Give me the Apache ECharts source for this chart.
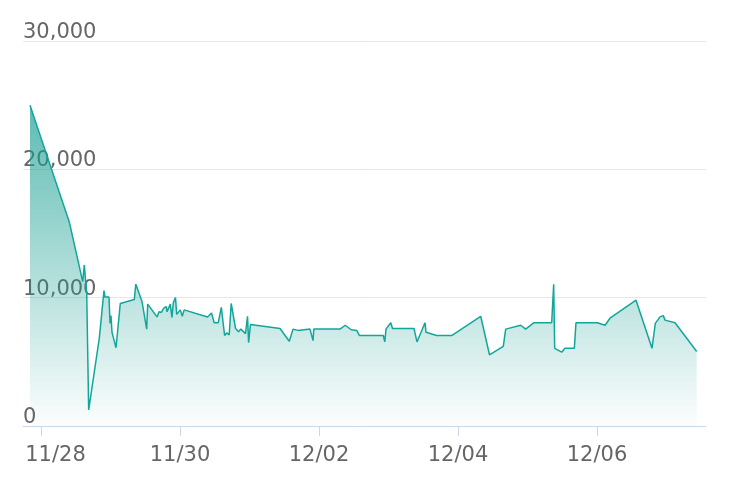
<!DOCTYPE html>
<html>
<head>
<meta charset="utf-8">
<script src="https://cdn.jsdelivr.net/npm/echarts@6/dist/echarts.min.js"></script>
<style>html,body{margin:0;padding:0;background:#fff;}#main{width:730px;height:498px;}</style>
</head>
<body>
<div id="main"></div>
<script>
var times = [
'2023-11-27 20:12','2023-11-28 09:46','2023-11-28 14:24','2023-11-28 14:57','2023-11-28 15:18','2023-11-28 15:47',
'2023-11-28 16:28','2023-11-28 20:08','2023-11-28 21:45','2023-11-28 22:06','2023-11-28 23:29','2023-11-28 23:50',
'2023-11-29 00:10','2023-11-29 00:31','2023-11-29 01:54','2023-11-29 03:23','2023-11-29 08:13','2023-11-29 08:44',
'2023-11-29 10:53','2023-11-29 12:30','2023-11-29 12:50','2023-11-29 16:04','2023-11-29 16:45','2023-11-29 17:32',
'2023-11-29 18:28','2023-11-29 19:16','2023-11-29 19:31','2023-11-29 20:39','2023-11-29 21:14','2023-11-29 21:41',
'2023-11-29 22:26','2023-11-29 22:52','2023-11-30 00:06','2023-11-30 00:47','2023-11-30 01:27','2023-11-30 09:30',
'2023-11-30 10:52','2023-11-30 11:49','2023-11-30 13:13','2023-11-30 14:16','2023-11-30 15:24','2023-11-30 16:07',
'2023-11-30 16:59','2023-11-30 17:41','2023-11-30 19:10','2023-11-30 20:12','2023-11-30 21:00','2023-11-30 22:37',
'2023-11-30 23:19','2023-11-30 23:41','2023-12-01 00:20','2023-12-01 10:32','2023-12-01 13:44','2023-12-01 15:01',
'2023-12-01 16:45','2023-12-01 20:53','2023-12-01 21:56','2023-12-01 22:12','2023-12-02 07:15','2023-12-02 09:03',
'2023-12-02 11:07','2023-12-02 13:01','2023-12-02 13:59','2023-12-02 22:12','2023-12-02 22:43','2023-12-02 23:08',
'2023-12-03 00:47','2023-12-03 01:23','2023-12-03 08:48','2023-12-03 09:50','2023-12-03 12:36','2023-12-03 12:57',
'2023-12-03 16:38','2023-12-03 21:49','2023-12-04 07:50','2023-12-04 10:52','2023-12-04 15:38','2023-12-04 16:28',
'2023-12-04 21:39','2023-12-04 23:22','2023-12-05 02:14','2023-12-05 08:21','2023-12-05 09:02','2023-12-05 09:23',
'2023-12-05 11:48','2023-12-05 12:56','2023-12-05 16:10','2023-12-05 16:44','2023-12-06 00:06','2023-12-06 02:46',
'2023-12-06 04:29','2023-12-06 13:28','2023-12-06 18:59','2023-12-06 20:08','2023-12-06 21:45','2023-12-06 22:53',
'2023-12-06 23:29','2023-12-07 02:56','2023-12-07 10:25'
];
var values = [
25000,15900,11250,12550,11600,10400,
1250,6850,10550,10050,10050,8000,
8600,7300,6100,9550,9850,11050,
9700,7550,9500,8500,8900,8850,
9200,9300,8900,9500,8450,9600,
10000,8700,9050,8550,9050,8500,
8800,8050,8050,9250,7050,7250,
7100,9550,7600,7350,7550,7200,
8550,6500,7900,7600,6600,7550,
7450,7550,6650,7550,7550,7850,
7500,7450,7050,7050,6550,7550,
8050,7600,7600,6550,8050,7300,
7050,7050,8550,5550,6200,7550,
7850,7550,8050,8050,11050,6050,
5750,6050,6050,8050,8050,7850,
8400,9800,6050,8000,8500,8600,
8250,8050,5800
];
var tickDates = ['2023-11-28 00:00','2023-11-30 00:00','2023-12-02 00:00','2023-12-04 00:00','2023-12-06 00:00'];
var axisStart = '2023-11-27 17:47';
var axisEnd = '2023-12-07 13:38';
var yTicks = [0, 10000, 20000, 30000];

function parseT(s) {
  var p = s.split(/[- :]/).map(Number);
  return new Date(p[0], p[1] - 1, p[2], p[3], p[4]).getTime();
}
function pad(n) { return (n < 10 ? '0' : '') + n; }

var chart = echarts.init(document.getElementById('main'), null, {renderer: 'canvas'});
var data = times.map(function (t, i) { return [parseT(t), values[i]]; });
var tickVals = tickDates.map(parseT);

var labelFont = {color: '#666666', fontFamily: 'DejaVu Sans', fontSize: 21};

chart.setOption({
  animation: false,
  backgroundColor: '#ffffff',
  grid: {left: 23, right: 24, top: 41, bottom: 72},
  xAxis: {
    type: 'value',
    scale: true,
    min: parseT(axisStart),
    max: parseT(axisEnd),
    axisLine: {show: true, lineStyle: {color: '#ccd6eb', width: 1}},
    axisTick: {show: true, length: 10, lineStyle: {color: '#ccd6eb'}, customValues: tickVals},
    axisLabel: {
      customValues: tickVals,
      color: '#666666',
      fontFamily: 'DejaVu Sans',
      fontSize: 21,
      margin: 19,
      rich: {
        first: {color: '#666666', fontFamily: 'DejaVu Sans', fontSize: 21, padding: [0, 0, 0, 29]}
      },
      formatter: function (v) {
        var d = new Date(v);
        var s = pad(d.getMonth() + 1) + '/' + pad(d.getDate());
        return v === tickVals[0] ? '{first|' + s + '}' : s;
      }
    },
    splitLine: {show: false}
  },
  yAxis: {
    type: 'value',
    min: yTicks[0],
    max: yTicks[yTicks.length - 1],
    interval: 10000,
    axisLine: {show: false},
    axisTick: {show: false},
    splitLine: {show: true, lineStyle: {color: '#e6e6e6', width: 1}},
    axisLabel: {
      inside: true,
      margin: 0,
      color: '#666666',
      fontFamily: 'DejaVu Sans',
      fontSize: 21,
      verticalAlign: 'bottom',
      lineHeight: 21,
      padding: [0, 0, -2, 0],
      formatter: function (v) { return v.toLocaleString('en-US'); }
    }
  },
  series: [{
    type: 'line',
    data: data,
    symbol: 'none',
    lineStyle: {color: '#12a69a', width: 1.5},
    itemStyle: {color: '#12a69a'},
    areaStyle: {
      color: new echarts.graphic.LinearGradient(0, 0, 0, 1, [
        {offset: 0, color: 'rgba(24,158,146,1)'},
        {offset: 1, color: 'rgba(24,158,146,0.02)'}
      ])
    }
  }]
});
</script>
</body>
</html>
